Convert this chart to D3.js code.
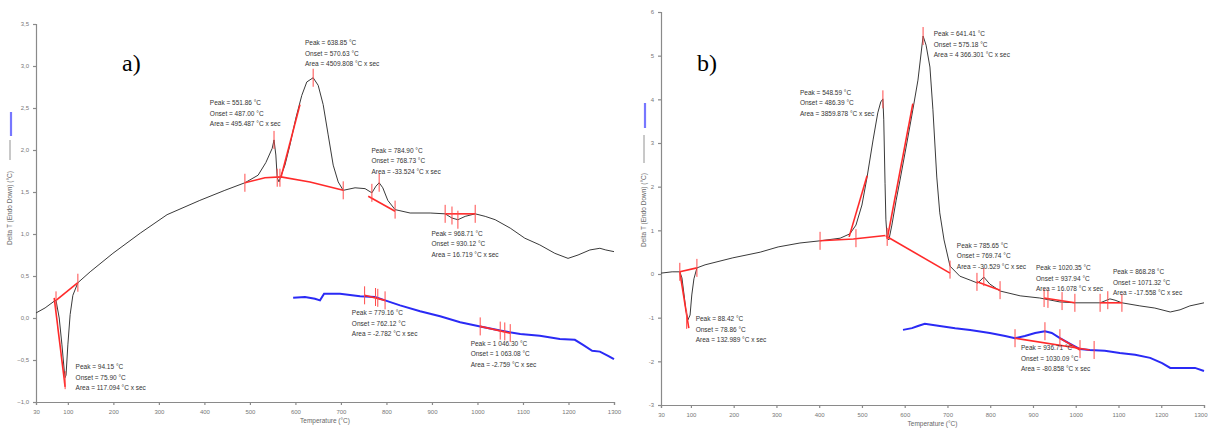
<!DOCTYPE html>
<html><head><meta charset="utf-8">
<script src="https://cdn.jsdelivr.net/npm/d3@7/dist/d3.min.js"></script>
<style>body{margin:0;background:#fff}svg{display:block}</style>
</head><body>
<svg id="chart" width="1209" height="430"></svg>
<script>
// ---------- shared axis data ----------
const xTicks = [30,100,200,300,400,500,600,700,800,900,1000,1100,1200,1300];
const yTicksA = [-1,-0.5,0,0.5,1,1.5,2,2.5,3,3.5];
const yTicksB = [-3,-2,-1,0,1,2,3,4,5,6];

// ---------- panel a: DTA curve (black) [T, ΔT] ----------
const dtaA_T = [30,50,70,74,81,87,92,94,96,100,105,111,122,149,199,259,318,390,445,489,518,535,549,553,557,560,564,568,577,588,601,614,625,639,650,661,672,683,694,705,731,753,768,777,784,792,803,819,852,896,929,944,957,973,995,1017,1039,1072,1104,1137,1170,1199,1221,1247,1269,1282,1300];
const dtaA_V = [0.06,0.12,0.20,0.21,0.00,-0.32,-0.62,-0.71,-0.68,-0.32,0.04,0.27,0.42,0.55,0.77,1.01,1.23,1.40,1.52,1.61,1.70,1.85,2.02,2.12,1.94,1.67,1.62,1.69,1.82,2.06,2.38,2.65,2.81,2.86,2.77,2.54,2.18,1.82,1.62,1.52,1.55,1.54,1.49,1.57,1.61,1.55,1.40,1.29,1.25,1.25,1.24,1.19,1.17,1.21,1.24,1.21,1.17,1.07,0.95,0.87,0.77,0.71,0.75,0.81,0.83,0.81,0.79];
// panel a: blue curve
const blueA_T = [595,621,643,654,663,698,742,775,797,830,874,918,962,1006,1050,1094,1137,1181,1214,1232,1252,1269,1287,1300];
const blueA_V = [0.24,0.25,0.23,0.21,0.29,0.29,0.26,0.25,0.21,0.15,0.08,0.02,-0.05,-0.10,-0.15,-0.19,-0.21,-0.25,-0.26,-0.32,-0.39,-0.40,-0.45,-0.49];
// panel a: red evaluation lines (baselines / tangents) in data units
const redLinesA = [
  [[74,0.21],[122,0.42]],
  [[70,0.24],[94,-0.82]],
  [[489,1.61],[533,1.67],[568,1.68],[632,1.62],[705,1.52]],
  [[568,1.67],[610,2.54]],
  [[760,1.45],[819,1.27]],
  [[929,1.24],[995,1.24]],
  [[752,0.27],[797,0.21]],
  [[1006,-0.10],[1072,-0.18]]
];
const redTicksA = [[74,0.21],[122,0.42],[94,-0.74],[489,1.61],[553,2.12],[560,1.67],[566,1.67],[639,2.86],[705,1.52],[768,1.49],[784,1.61],[819,1.29],[929,1.24],[944,1.22],[957,1.17],[995,1.24],[752,0.27],[776,0.25],[781,0.24],[797,0.21],[1006,-0.10],[1050,-0.15],[1060,-0.16],[1072,-0.18]];
const labelsA = [
  {T:117, v:-0.61, lines:["Peak = 94.15 °C","Onset = 75.90 °C","Area = 117.094 °C x sec"]},
  {T:412, v:2.53, lines:["Peak = 551.86 °C","Onset = 487.00 °C","Area = 495.487 °C x sec"]},
  {T:621, v:3.25, lines:["Peak = 638.85 °C","Onset = 570.63 °C","Area = 4509.808 °C x sec"]},
  {T:767, v:1.97, lines:["Peak = 784.90 °C","Onset = 768.73 °C","Area = -33.524 °C x sec"]},
  {T:899, v:0.98, lines:["Peak = 968.71 °C","Onset = 930.12 °C","Area = 16.719 °C x sec"]},
  {T:724, v:0.03, lines:["Peak = 779.16 °C","Onset = 762.12 °C","Area = -2.782 °C x sec"]},
  {T:985, v:-0.33, lines:["Peak = 1 046.30 °C","Onset = 1 063.08 °C","Area = -2.759 °C x sec"]}
];

// ---------- panel b ----------
const dtaB_T = [30,56,74,79,84,88,93,98,102,107,114,133,198,262,304,355,402,449,472,486,500,512,526,537,544,549,551,554,556,559,563,570,580,589,605,619,631,643,650,659,666,675,682,692,706,729,753,771,785,799,823,870,916,963,998,1057,1080,1092,1108,1150,1185,1221,1244,1267,1300];
const dtaB_V = [0.02,0.05,0.05,-0.09,-0.48,-0.82,-1.05,-0.94,-0.48,-0.11,0.14,0.21,0.37,0.50,0.62,0.71,0.76,0.82,0.92,1.12,1.58,2.22,3.07,3.69,3.94,4.01,3.53,2.08,1.24,0.82,0.78,1.12,1.69,2.15,3.00,3.76,4.44,5.45,5.24,4.74,3.76,2.22,1.40,0.78,0.18,-0.05,-0.14,-0.21,-0.07,-0.23,-0.39,-0.50,-0.55,-0.64,-0.66,-0.66,-0.57,-0.60,-0.66,-0.73,-0.78,-0.87,-0.82,-0.73,-0.66];
const blueB_T = [596,617,631,647,682,718,753,799,835,858,881,905,928,944,963,987,1010,1033,1068,1103,1139,1174,1202,1221,1256,1279,1300];
const blueB_V = [-1.28,-1.24,-1.19,-1.14,-1.19,-1.24,-1.28,-1.35,-1.42,-1.47,-1.42,-1.35,-1.31,-1.35,-1.47,-1.60,-1.72,-1.74,-1.76,-1.81,-1.85,-1.92,-2.04,-2.15,-2.15,-2.15,-2.22];
const redLinesB = [
  [[74,0.05],[114,0.14]],
  [[74,0.05],[95,-1.24]],
  [[402,0.76],[480,0.80],[555,0.88]],
  [[470,0.85],[512,2.25]],
  [[556,0.87],[706,0.02]],
  [[559,0.80],[619,3.90]],
  [[769,-0.18],[823,-0.37]],
  [[926,-0.55],[998,-0.66]],
  [[1057,-0.66],[1108,-0.66]],
  [[858,-1.47],[1033,-1.74]],
  [[963,-1.47],[1010,-1.74]]
];
const redTicksB = [[74,0.05],[114,0.14],[90,-1.05],[402,0.76],[486,0.82],[549,4.0],[559,0.85],[643,5.45],[706,0.10],[769,-0.18],[785,-0.07],[823,-0.37],[926,-0.55],[935,-0.57],[968,-0.62],[998,-0.66],[1057,-0.66],[1075,-0.60],[1108,-0.66],[858,-1.47],[928,-1.31],[963,-1.47],[1010,-1.72],[1043,-1.74]];
const labelsB = [
  {T:111, v:-1.08, lines:["Peak = 88.42 °C","Onset = 78.86 °C","Area = 132.989 °C x sec"]},
  {T:355, v:4.10, lines:["Peak = 548.59 °C","Onset = 486.39 °C","Area = 3859.878 °C x sec"]},
  {T:668, v:5.45, lines:["Peak = 641.41 °C","Onset = 575.18 °C","Area = 4 366.301 °C x sec"]},
  {T:722, v:0.60, lines:["Peak = 785.65 °C","Onset = 769.74 °C","Area = -30.529 °C x sec"]},
  {T:907, v:0.09, lines:["Peak = 1020.35 °C","Onset = 937.94 °C","Area = 16.078 °C x sec"]},
  {T:1087, v:0.00, lines:["Peak = 868.28 °C","Onset = 1071.32 °C","Area = -17.558 °C x sec"]},
  {T:872, v:-1.75, lines:["Peak = 936.71 °C","Onset = 1030.09 °C","Area = -80.858 °C x sec"]}
];

// ---------- drawing ----------
const svg = d3.select("#chart");
const GRAY = "#8a8a8a";
const tickFmtA = d => d3.format(".1f")(d).replace(".", ",");
const tickFmtB = d => String(d);
const xFmt = d => String(d);

function panel(cfg){
  const x = d3.scaleLinear().domain([30,1300]).range(cfg.xr);
  const y = d3.scaleLinear().domain(cfg.yd).range(cfg.yr);
  const g = svg.append("g");

  const xa = g.append("g").attr("transform",`translate(0,${cfg.yr[0]})`)
    .call(d3.axisBottom(x).tickValues(xTicks).tickFormat(xFmt).tickSize(3).tickPadding(5));
  const ya = g.append("g").attr("transform",`translate(${cfg.xr[0]},0)`)
    .call(d3.axisLeft(y).tickValues(cfg.yTicks).tickFormat(cfg.yFmt).tickSize(3).tickPadding(4));
  [xa,ya].forEach(a=>{
    a.selectAll("path,line").attr("stroke",GRAY).attr("stroke-width",1.2);
    a.selectAll("text").attr("fill","#777").style("font","6px 'Liberation Sans',Arial,sans-serif");
  });
  if (cfg.endAnchorLast) {
    xa.selectAll(".tick").filter(d=>d===1300).select("text")
      .attr("text-anchor","end").attr("dx","3");
  }

  g.append("text").attr("x",(cfg.xr[0]+cfg.xr[1])/2).attr("y",cfg.yr[0]+21)
    .attr("text-anchor","middle").attr("fill","#666")
    .style("font","6.5px 'Liberation Sans',Arial,sans-serif").text("Temperature (°C)");

  // y title + legend keys
  const tx = cfg.titleX;
  g.append("text").attr("transform",`translate(${tx},${cfg.titleY}) rotate(-90)`)
    .attr("text-anchor","middle").attr("fill","#666")
    .style("font","6.5px 'Liberation Sans',Arial,sans-serif").text("Delta T (Endo Down) (°C)");
  g.append("line").attr("x1",tx-2).attr("x2",tx-2).attr("y1",cfg.dashY[0]).attr("y2",cfg.dashY[1])
    .attr("stroke","#777").attr("stroke-width",0.8);
  g.append("line").attr("x1",tx-1).attr("x2",tx-1).attr("y1",cfg.blueKey[0]).attr("y2",cfg.blueKey[1])
    .attr("stroke","#7777ff").attr("stroke-width",2.2);

  g.append("text").attr("x",cfg.letter[0]).attr("y",cfg.letter[1]).attr("fill","#000")
    .style("font","24px 'Liberation Serif','Times New Roman',serif").text(cfg.letterText);

  const line = d3.line().x(d=>x(d[0])).y(d=>y(d[1]));
  g.append("path").datum(cfg.bT.map((t,i)=>[t,cfg.bV[i]])).attr("d",line)
    .attr("fill","none").attr("stroke","#2a2af5").attr("stroke-width",2);
  g.append("path").datum(cfg.kT.map((t,i)=>[t,cfg.kV[i]])).attr("d",line)
    .attr("fill","none").attr("stroke","#3a3a3a").attr("stroke-width",1);

  g.selectAll(".rl").data(cfg.red).enter().append("path").attr("d",line)
    .attr("fill","none").attr("stroke","#ff2a2a").attr("stroke-width",1.6);
  g.selectAll(".rt").data(cfg.ticks).enter().append("line")
    .attr("x1",d=>x(d[0])).attr("x2",d=>x(d[0]))
    .attr("y1",d=>y(d[1])-9).attr("y2",d=>y(d[1])+9)
    .attr("stroke","#ff4a4a").attr("stroke-width",1);

  cfg.labels.forEach(L=>{
    const t = g.append("text").attr("fill","#333")
      .style("font","6.5px 'Liberation Sans',Arial,sans-serif");
    L.lines.forEach((s,i)=>t.append("tspan").attr("x",x(L.T)).attr("y",y(L.v)+i*10.5).text(s));
  });
}

panel({xr:[36,614], yd:[-1,3.5], yr:[402,24], yTicks:yTicksA, yFmt:tickFmtA,
  titleX:12, titleY:208, dashY:[140,160], blueKey:[112,136], letter:[122,71], letterText:"a)",
  kT:dtaA_T, kV:dtaA_V, bT:blueA_T, bV:blueA_V, red:redLinesA, ticks:redTicksA, labels:labelsA,
  endAnchorLast:false});
panel({xr:[661,1204], yd:[-3,6], yr:[405,12], yTicks:yTicksB, yFmt:tickFmtB,
  titleX:646, titleY:210, dashY:[135,163], blueKey:[103,128], letter:[697,71], letterText:"b)",
  kT:dtaB_T, kV:dtaB_V, bT:blueB_T, bV:blueB_V, red:redLinesB, ticks:redTicksB, labels:labelsB,
  endAnchorLast:true});
</script>
</body></html>
